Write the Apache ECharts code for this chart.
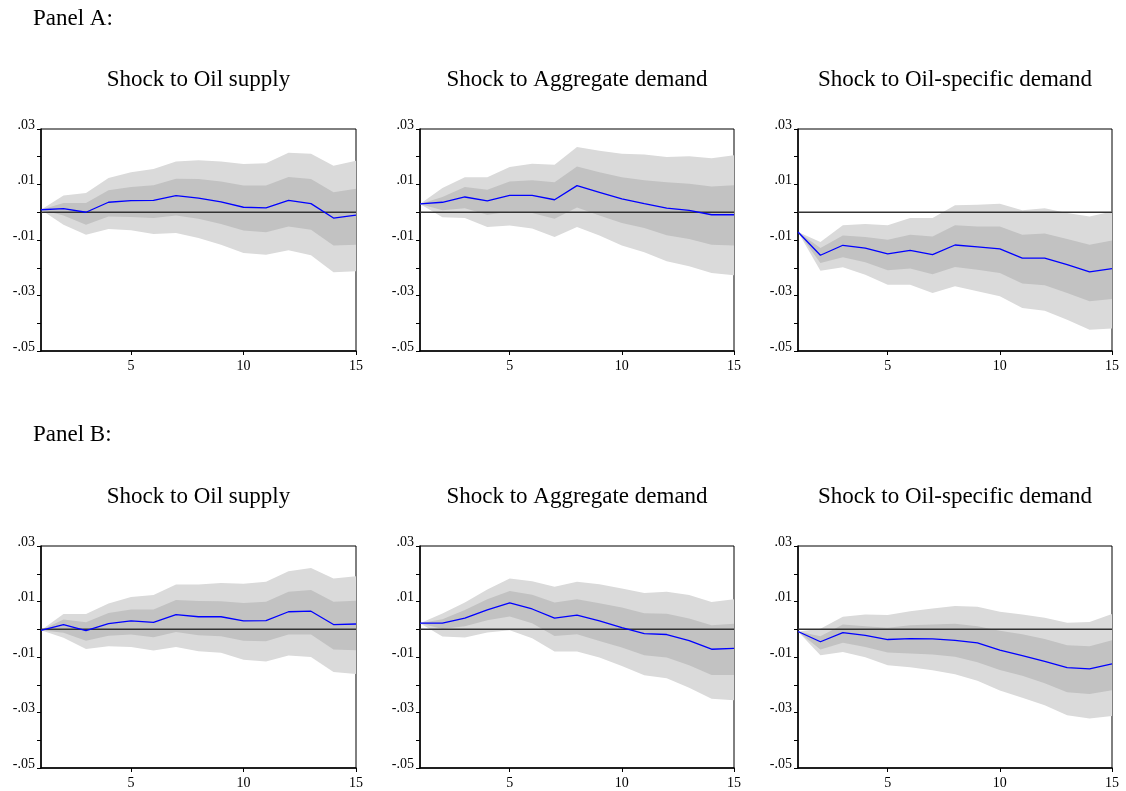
<!DOCTYPE html>
<html>
<head>
<meta charset="utf-8">
<script src="https://cdn.jsdelivr.net/npm/echarts@6/dist/echarts.min.js"></script>
<style>
  html, body { margin: 0; padding: 0; background: #fff; }
  #chart { width: 1126px; height: 791px; }
</style>
</head>
<body>
<div id="chart"></div>
<script>
// Horizon (periods after the shock)
const periods = [1, 2, 3, 4, 5, 6, 7, 8, 9, 10, 11, 12, 13, 14, 15];

// Axis ticks and their labels
const xTicks = [5, 10, 15];
const yTicks = [0.03, 0.01, -0.01, -0.03, -0.05];
const yTickLabels = ['.03', '.01', '-.01', '-.03', '-.05'];
const yMinorTicks = [0.03, 0.02, 0.01, 0, -0.01, -0.02, -0.03, -0.04, -0.05];

// Panel titles
const panelHeadings = ['Panel A:', 'Panel B:'];
const shockTitles = ['Shock to Oil supply', 'Shock to Aggregate demand', 'Shock to Oil-specific demand'];

// ---- Panel A: Shock to Oil supply
const aSupplyIrf  = [0.0009, 0.0013, 0.0000, 0.0036, 0.0042, 0.0043, 0.0060, 0.0051, 0.0037, 0.0018, 0.0016, 0.0043, 0.0031, -0.0021, -0.0010];
const aSupplyHi68 = [0.0009, 0.0033, 0.0033, 0.0079, 0.0091, 0.0097, 0.0121, 0.0120, 0.0111, 0.0096, 0.0096, 0.0127, 0.0120, 0.0072, 0.0085];
const aSupplyLo68 = [0.0009, -0.0012, -0.0045, -0.0015, -0.0017, -0.0021, -0.0012, -0.0023, -0.0042, -0.0066, -0.0072, -0.0051, -0.0063, -0.0120, -0.0117];
const aSupplyHi95 = [0.0009, 0.0060, 0.0069, 0.0123, 0.0144, 0.0156, 0.0183, 0.0187, 0.0183, 0.0174, 0.0177, 0.0214, 0.0211, 0.0168, 0.0186];
const aSupplyLo95 = [0.0009, -0.0045, -0.0081, -0.0060, -0.0065, -0.0078, -0.0075, -0.0093, -0.0117, -0.0147, -0.0153, -0.0137, -0.0155, -0.0216, -0.0213];

// ---- Panel A: Shock to Aggregate demand
const aDemandIrf  = [0.0030, 0.0036, 0.0055, 0.0041, 0.0061, 0.0061, 0.0045, 0.0096, 0.0072, 0.0048, 0.0031, 0.0015, 0.0007, -0.0009, -0.0009];
const aDemandHi68 = [0.0030, 0.0055, 0.0091, 0.0081, 0.0111, 0.0115, 0.0108, 0.0165, 0.0144, 0.0126, 0.0115, 0.0108, 0.0103, 0.0093, 0.0097];
const aDemandLo68 = [0.0030, 0.0007, 0.0014, -0.0009, 0.0002, -0.0003, -0.0023, 0.0017, -0.0012, -0.0039, -0.0057, -0.0083, -0.0096, -0.0117, -0.0120];
const aDemandHi95 = [0.0030, 0.0087, 0.0126, 0.0126, 0.0163, 0.0175, 0.0171, 0.0235, 0.0222, 0.0211, 0.0208, 0.0199, 0.0202, 0.0195, 0.0205];
const aDemandLo95 = [0.0030, -0.0018, -0.0021, -0.0053, -0.0048, -0.0059, -0.0089, -0.0053, -0.0084, -0.0120, -0.0144, -0.0177, -0.0195, -0.0219, -0.0227];

// ---- Panel A: Shock to Oil-specific demand
const aSpecificIrf  = [-0.0071, -0.0155, -0.0119, -0.0129, -0.0150, -0.0137, -0.0153, -0.0118, -0.0125, -0.0132, -0.0165, -0.0165, -0.0189, -0.0215, -0.0203];
const aSpecificHi68 = [-0.0071, -0.0129, -0.0084, -0.0089, -0.0099, -0.0081, -0.0087, -0.0047, -0.0051, -0.0051, -0.0081, -0.0077, -0.0096, -0.0117, -0.0102];
const aSpecificLo68 = [-0.0071, -0.0183, -0.0162, -0.0180, -0.0209, -0.0203, -0.0223, -0.0197, -0.0207, -0.0219, -0.0257, -0.0263, -0.0291, -0.0321, -0.0313];
const aSpecificHi95 = [-0.0071, -0.0107, -0.0047, -0.0042, -0.0047, -0.0021, -0.0021, 0.0025, 0.0027, 0.0031, 0.0007, 0.0014, -0.0003, -0.0015, 0.0003];
const aSpecificLo95 = [-0.0071, -0.0211, -0.0198, -0.0225, -0.0261, -0.0261, -0.0291, -0.0267, -0.0285, -0.0303, -0.0345, -0.0355, -0.0387, -0.0423, -0.0419];

// ---- Panel B: Shock to Oil supply
const bSupplyIrf  = [-0.0004, 0.0017, -0.0005, 0.0020, 0.0030, 0.0025, 0.0053, 0.0045, 0.0045, 0.0030, 0.0031, 0.0063, 0.0065, 0.0017, 0.0019];
const bSupplyHi68 = [-0.0004, 0.0035, 0.0025, 0.0059, 0.0071, 0.0071, 0.0105, 0.0102, 0.0101, 0.0095, 0.0099, 0.0135, 0.0141, 0.0099, 0.0103];
const bSupplyLo68 = [-0.0004, -0.0013, -0.0041, -0.0023, -0.0019, -0.0029, -0.0010, -0.0022, -0.0025, -0.0041, -0.0043, -0.0019, -0.0019, -0.0073, -0.0076];
const bSupplyHi95 = [-0.0004, 0.0055, 0.0055, 0.0093, 0.0116, 0.0123, 0.0161, 0.0161, 0.0167, 0.0164, 0.0171, 0.0209, 0.0221, 0.0183, 0.0191];
const bSupplyLo95 = [-0.0004, -0.0031, -0.0071, -0.0061, -0.0064, -0.0077, -0.0064, -0.0079, -0.0085, -0.0110, -0.0116, -0.0095, -0.0100, -0.0154, -0.0161];

// ---- Panel B: Shock to Aggregate demand
const bDemandIrf  = [0.0022, 0.0022, 0.0040, 0.0070, 0.0095, 0.0073, 0.0040, 0.0051, 0.0030, 0.0006, -0.0016, -0.0019, -0.0041, -0.0072, -0.0069];
const bDemandHi68 = [0.0022, 0.0036, 0.0069, 0.0108, 0.0138, 0.0124, 0.0096, 0.0108, 0.0094, 0.0078, 0.0058, 0.0056, 0.0039, 0.0014, 0.0020];
const bDemandLo68 = [0.0022, 0.0001, 0.0011, 0.0032, 0.0046, 0.0022, -0.0024, -0.0018, -0.0042, -0.0066, -0.0094, -0.0102, -0.0130, -0.0165, -0.0165];
const bDemandHi95 = [0.0022, 0.0057, 0.0096, 0.0143, 0.0183, 0.0173, 0.0153, 0.0171, 0.0162, 0.0147, 0.0131, 0.0135, 0.0123, 0.0098, 0.0108];
const bDemandLo95 = [0.0022, -0.0026, -0.0030, -0.0012, -0.0004, -0.0032, -0.0080, -0.0080, -0.0102, -0.0132, -0.0166, -0.0177, -0.0211, -0.0250, -0.0256];

// ---- Panel B: Shock to Oil-specific demand
const bSpecificIrf  = [-0.0008, -0.0045, -0.0012, -0.0022, -0.0037, -0.0034, -0.0035, -0.0040, -0.0049, -0.0075, -0.0095, -0.0116, -0.0138, -0.0143, -0.0125];
const bSpecificHi68 = [-0.0008, -0.0025, 0.0017, 0.0011, 0.0005, 0.0014, 0.0017, 0.0020, 0.0011, -0.0005, -0.0018, -0.0035, -0.0058, -0.0061, -0.0040];
const bSpecificLo68 = [-0.0008, -0.0073, -0.0049, -0.0064, -0.0084, -0.0087, -0.0091, -0.0099, -0.0119, -0.0147, -0.0168, -0.0195, -0.0227, -0.0233, -0.0220];
const bSpecificHi95 = [-0.0008, 0.0002, 0.0045, 0.0053, 0.0051, 0.0065, 0.0075, 0.0084, 0.0081, 0.0063, 0.0053, 0.0041, 0.0023, 0.0026, 0.0055];
const bSpecificLo95 = [-0.0008, -0.0094, -0.0082, -0.0101, -0.0130, -0.0137, -0.0148, -0.0162, -0.0186, -0.0221, -0.0247, -0.0274, -0.0310, -0.0322, -0.0313];

const panels = [
  { irf: aSupplyIrf,   hi68: aSupplyHi68,   lo68: aSupplyLo68,   hi95: aSupplyHi95,   lo95: aSupplyLo95 },
  { irf: aDemandIrf,   hi68: aDemandHi68,   lo68: aDemandLo68,   hi95: aDemandHi95,   lo95: aDemandLo95 },
  { irf: aSpecificIrf, hi68: aSpecificHi68, lo68: aSpecificLo68, hi95: aSpecificHi95, lo95: aSpecificLo95 },
  { irf: bSupplyIrf,   hi68: bSupplyHi68,   lo68: bSupplyLo68,   hi95: bSupplyHi95,   lo95: bSupplyLo95 },
  { irf: bDemandIrf,   hi68: bDemandHi68,   lo68: bDemandLo68,   hi95: bDemandHi95,   lo95: bDemandLo95 },
  { irf: bSpecificIrf, hi68: bSpecificHi68, lo68: bSpecificLo68, hi95: bSpecificHi95, lo95: bSpecificLo95 }
];

// Layout of the 2 x 3 grid of small plots
const colLeft = [41, 420, 798];
const colWidth = [315, 314, 314];
const rowTop = [129, 546];
const rowHeight = [222, 222];
const headingY = [19, 435];
const titleY = [80, 497];

const FONT = '"Liberation Serif", "Times New Roman", serif';
const LIGHT = '#dadada';
const DARK = '#c2c2c2';

function yLabel(v) {
  for (let i = 0; i < yTicks.length; i++) {
    if (Math.abs(yTicks[i] - v) < 1e-9) return yTickLabels[i];
  }
  return '';
}

// Filled band between a lower and an upper bound, placed through the axes' scales
function band(k, lo, hi, color) {
  return {
    type: 'custom',
    xAxisIndex: k,
    yAxisIndex: k,
    silent: true,
    data: periods.map((p, i) => [p, lo[i], hi[i]]),
    encode: { x: 0, y: [1, 2] },
    renderItem: function (params, api) {
      if (params.dataIndex !== 0) return null;
      const pts = [];
      for (let i = 0; i < periods.length; i++) pts.push(api.coord([periods[i], hi[i]]));
      for (let i = periods.length - 1; i >= 0; i--) pts.push(api.coord([periods[i], lo[i]]));
      return { type: 'polygon', shape: { points: pts }, style: { fill: color, stroke: null } };
    }
  };
}

const grid = [], xAxis = [], yAxis = [], series = [], graphic = [];

panels.forEach((pn, k) => {
  const r = Math.floor(k / 3), c = k % 3;
  grid.push({
    left: colLeft[c], top: rowTop[r], width: colWidth[c], height: rowHeight[r],
    show: true, borderColor: '#000', borderWidth: 1, backgroundColor: 'transparent'
  });
  xAxis.push({
    type: 'value', gridIndex: k, min: 1, max: 15,
    splitLine: { show: false },
    axisLine: { show: true, onZero: false, lineStyle: { color: '#000', width: 1.5 } },
    axisTick: { show: true, customValues: xTicks, length: 4, inside: false, lineStyle: { color: '#000', width: 1 } },
    axisLabel: { show: true, customValues: xTicks, margin: 8, color: '#000', fontFamily: FONT, fontSize: 14 }
  });
  yAxis.push({
    type: 'value', gridIndex: k, min: -0.05, max: 0.03,
    splitLine: { show: false },
    axisLine: { show: true, onZero: false, lineStyle: { color: '#000', width: 1.5 } },
    axisTick: { show: true, customValues: yMinorTicks, length: 4, inside: false, lineStyle: { color: '#000', width: 1 } },
    axisLabel: { show: true, customValues: yTicks, margin: 6, color: '#000', fontFamily: FONT, fontSize: 14,
                 verticalAlign: 'bottom', lineHeight: 8, formatter: yLabel }
  });

  series.push(band(k, pn.lo95, pn.hi95, LIGHT));
  series.push(band(k, pn.lo68, pn.hi68, DARK));
  series.push({
    type: 'line', xAxisIndex: k, yAxisIndex: k, silent: true,
    data: [[1, 0], [15, 0]], symbol: 'none',
    lineStyle: { color: '#333', width: 1.4 }
  });
  series.push({
    type: 'line', xAxisIndex: k, yAxisIndex: k, silent: true,
    data: periods.map((p, i) => [p, pn.irf[i]]), symbol: 'none',
    lineStyle: { color: '#0000ff', width: 1.3 }
  });

  graphic.push({
    type: 'text', x: colLeft[c] + colWidth[c] / 2, y: titleY[r], silent: true,
    style: { text: shockTitles[c], font: '23px ' + FONT, fill: '#000', textAlign: 'center', textVerticalAlign: 'middle' }
  });
});

panelHeadings.forEach((h, r) => {
  graphic.push({
    type: 'text', x: 33, y: headingY[r], silent: true,
    style: { text: h, font: '23px ' + FONT, fill: '#000', textAlign: 'left', textVerticalAlign: 'middle' }
  });
});

const chart = echarts.init(document.getElementById('chart'), null, { renderer: 'canvas' });
chart.setOption({
  animation: false,
  backgroundColor: '#fff',
  grid: grid,
  xAxis: xAxis,
  yAxis: yAxis,
  series: series,
  graphic: graphic
});
</script>
</body>
</html>
